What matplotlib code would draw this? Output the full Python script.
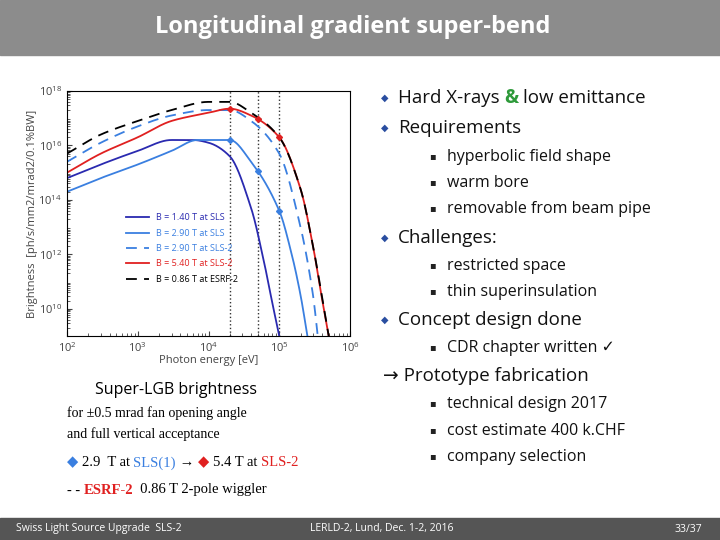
import matplotlib
matplotlib.use("Agg")
import matplotlib.pyplot as plt
import numpy as np
from matplotlib.patches import Rectangle

plt.rcParams['font.family'] = ['Open Sans', 'DejaVu Sans']

E_b14 = [1e2, 3e2, 1e3, 3e3, 6e3, 1e4, 2e4, 4e4, 6e4, 8e4, 1e5]
B_b14 = [14.8, 15.3, 15.8, 16.2, 16.2, 16.1, 15.6, 13.7, 11.8, 10.2, 9.0]
E_b29 = [1e2, 3e2, 1e3, 3e3, 7e3, 2e4, 4e4, 1e5, 1.5e5, 2e5, 2.5e5]
B_b29 = [14.3, 14.8, 15.3, 15.8, 16.2, 16.2, 15.4, 13.6, 12.0, 10.5, 9.0]
E_b29s2 = [1e2, 3e2, 1e3, 3e3, 1e4, 2e4, 4e4, 1e5, 2e5, 3e5, 3.5e5]
B_b29s2 = [15.4, 16.1, 16.7, 17.1, 17.3, 17.3, 16.9, 15.7, 13.0, 10.5, 9.0]
E_b54 = [1e2, 3e2, 1e3, 3e3, 1e4, 2e4, 4e4, 1e5, 2e5, 3e5, 4e5, 5e5]
B_b54 = [15.0, 15.7, 16.3, 16.9, 17.2, 17.35, 17.1, 16.3, 14.4, 12.3, 10.4, 9.0]
E_esrf = [1e2, 3e2, 1e3, 3e3, 1e4, 2e4, 4e4, 1e5, 2e5, 3e5, 5e5]
B_esrf = [15.7, 16.4, 16.9, 17.3, 17.6, 17.6, 17.2, 16.3, 14.4, 12.3, 9.0]
vlines = [2e4, 5e4, 1e5]
labels = ['B = 1.40 T at SLS', 'B = 2.90 T at SLS', 'B = 2.90 T at SLS-2',
          'B = 5.40 T at SLS-2', 'B = 0.86 T at ESRF-2']

def smooth(E, B):
    x = np.log10(E); xs = np.linspace(x[0], x[-1], 300)
    y = np.array(B); h = np.diff(x); d = np.diff(y)/h
    m = np.zeros_like(y); m[0] = d[0]; m[-1] = d[-1]
    for i in range(1, len(y)-1):
        m[i] = 0.0 if d[i-1]*d[i] <= 0 else 2/(1/d[i-1]+1/d[i])
    ys = np.empty_like(xs)
    for j, xv in enumerate(xs):
        i = max(min(np.searchsorted(x, xv) - 1, len(x)-2), 0)
        t = (xv - x[i]) / h[i]
        h00 = 2*t**3-3*t**2+1; h10 = t**3-2*t**2+t; h01 = -2*t**3+3*t**2; h11 = t**3-t**2
        ys[j] = h00*y[i]+h10*h[i]*m[i]+h01*y[i+1]+h11*h[i]*m[i+1]
    return 10**xs, 10**ys

fig = plt.figure(figsize=(7.2, 5.4), dpi=100)
fig.patches.append(Rectangle((0, 485/540), 1, 55/540, transform=fig.transFigure, color='#8c8c8c', zorder=-1))
fig.text(0.49, 1-27/540, 'Longitudinal gradient super-bend', ha='center', va='center', color='white', fontsize=17, fontweight='bold')
fig.patches.append(Rectangle((0, 0), 1, 22/540, transform=fig.transFigure, color='#555555', zorder=-1))
fig.text(0.022, 11/540, 'Swiss Light Source Upgrade  SLS-2', color='white', fontsize=7.5, va='center')
fig.text(0.53, 11/540, 'LERLD-2, Lund, Dec. 1-2, 2016', color='white', fontsize=7.5, va='center', ha='center')
fig.text(0.975, 11/540, '33/37', color='white', fontsize=7.5, va='center', ha='right')

ax = fig.add_axes([67/720, 1-336/540, (350-67)/720, (336-91)/540])
ax.set_xscale('log'); ax.set_yscale('log')
ax.set_xlim(1e2, 1e6); ax.set_ylim(1e9, 1e18)
for v in vlines:
    ax.axvline(v, color='#333333', ls=':', lw=1)
styles = [('#2a2ab0', '-'), ('#3a7fe0', '-'), ('#3a7fe0', '--'), ('#e02020', '-'), ('black', '--')]
data = [(E_b14, B_b14), (E_b29, B_b29), (E_b29s2, B_b29s2), (E_b54, B_b54), (E_esrf, B_esrf)]
for (E, B), (c, ls), lab in zip(data, styles, labels):
    xs, ys = smooth(E, B)
    kw = dict(dashes=(6, 4)) if ls == '--' else {}
    ax.plot(xs, ys, color=c, ls=ls, lw=1.3, label=lab, **kw)
for (E, B), c in [(data[1], '#3a7fe0'), (data[3], '#e02020')]:
    xs, ys = smooth(E, B)
    ax.plot(vlines, 10**np.interp(np.log10(vlines), np.log10(xs), np.log10(ys)), 'D', color=c, ms=3)
ax.set_yticks([1e10, 1e12, 1e14, 1e16, 1e18])
ax.tick_params(labelsize=8, colors='#444444', which='both', direction='in')
ax.set_xlabel('Photon energy [eV]', fontsize=8, color='#444444', labelpad=0)
ax.set_ylabel('Brightness  [ph/s/mm2/mrad2/0.1%BW]', fontsize=8, color='#444444', labelpad=0)
leg = ax.legend(loc='lower left', bbox_to_anchor=(0.18, 0.18), frameon=False, fontsize=6.5, handlelength=2.5, labelspacing=0.7)
for t, (c, _) in zip(leg.get_texts(), styles):
    t.set_color(c)

blue = '#2a4ea0'
def bullet(y, txt):
    fig.text(381/720, 1-y/540, '\u25c6', color=blue, fontsize=7, va='center')
    fig.text(398/720, 1-y/540, txt, fontsize=13.5, va='center', color='#111111')
def sub(y, txt):
    fig.text(429/720, 1-y/540, '\u25aa', fontsize=7, va='center', color='#222222')
    fig.text(447/720, 1-y/540, txt, fontsize=11.5, va='center', color='#111111')
bullet(98, 'Hard X-rays')
fig.text(0, 0, '')
t1 = fig.text(398/720, 1-98/540, 'Hard X-rays ', fontsize=13.5, va='center', alpha=0)
fig.canvas.draw()
bb = t1.get_window_extent()
t2 = fig.text(bb.x1/720, 1-98/540, '&', fontsize=13.5, va='center', color='#2e9a3a', fontweight='bold')
bb2 = t2.get_window_extent(renderer=fig.canvas.get_renderer())
fig.text(bb2.x1/720 + 4/720, 1-98/540, 'low emittance', fontsize=13.5, va='center', color='#111111')
bullet(128, 'Requirements')
sub(157, 'hyperbolic field shape'); sub(183, 'warm bore'); sub(209, 'removable from beam pipe')
bullet(238, 'Challenges:')
sub(266, 'restricted space'); sub(292, 'thin superinsulation')
bullet(320, 'Concept design done')
sub(348, 'CDR chapter written \u2713')
fig.text(383/720, 1-376/540, '\u2192 Prototype fabrication', fontsize=13.5, va='center', color='#111111')
sub(404, 'technical design 2017'); sub(431, 'cost estimate 400 k.CHF'); sub(457, 'company selection')

fig.text(95/720, 1-390/540, 'Super-LGB brightness', fontsize=11.5, va='center')
serif = ['Liberation Serif', 'DejaVu Sans']
fig.text(67/720, 1-413/540, 'for \u00b10.5 mrad fan opening angle', fontsize=10, va='center', family=serif)
fig.text(67/720, 1-434/540, 'and full vertical acceptance', fontsize=10, va='center', family=serif)
parts = [('\u25c6 ', '#3a7fe0'), ('2.9  T at ', 'black'), ('SLS(1)', '#3a7fe0'), (' \u2192 ', 'black'),
         ('\u25c6 ', '#e02020'), ('5.4 T at ', 'black'), ('SLS-2', '#e02020')]
x = 67
r = fig.canvas.get_renderer()
for s, c in parts:
    t = fig.text(x/720, 1-463/540, s, fontsize=10.5, va='center', family=serif, color=c)
    x = t.get_window_extent(renderer=r).x1
parts2 = [('- - ', 'black'), ('ESRF-2', '#e02020'), ('  0.86 T 2-pole wiggler', 'black')]
x = 67
for s, c in parts2:
    t = fig.text(x/720, 1-490/540, s, fontsize=10.5, va='center', family=serif, color=c,
                 fontweight='bold' if s == 'ESRF-2' else 'normal')
    x = t.get_window_extent(renderer=r).x1
fig.savefig('out.png', dpi=100)
